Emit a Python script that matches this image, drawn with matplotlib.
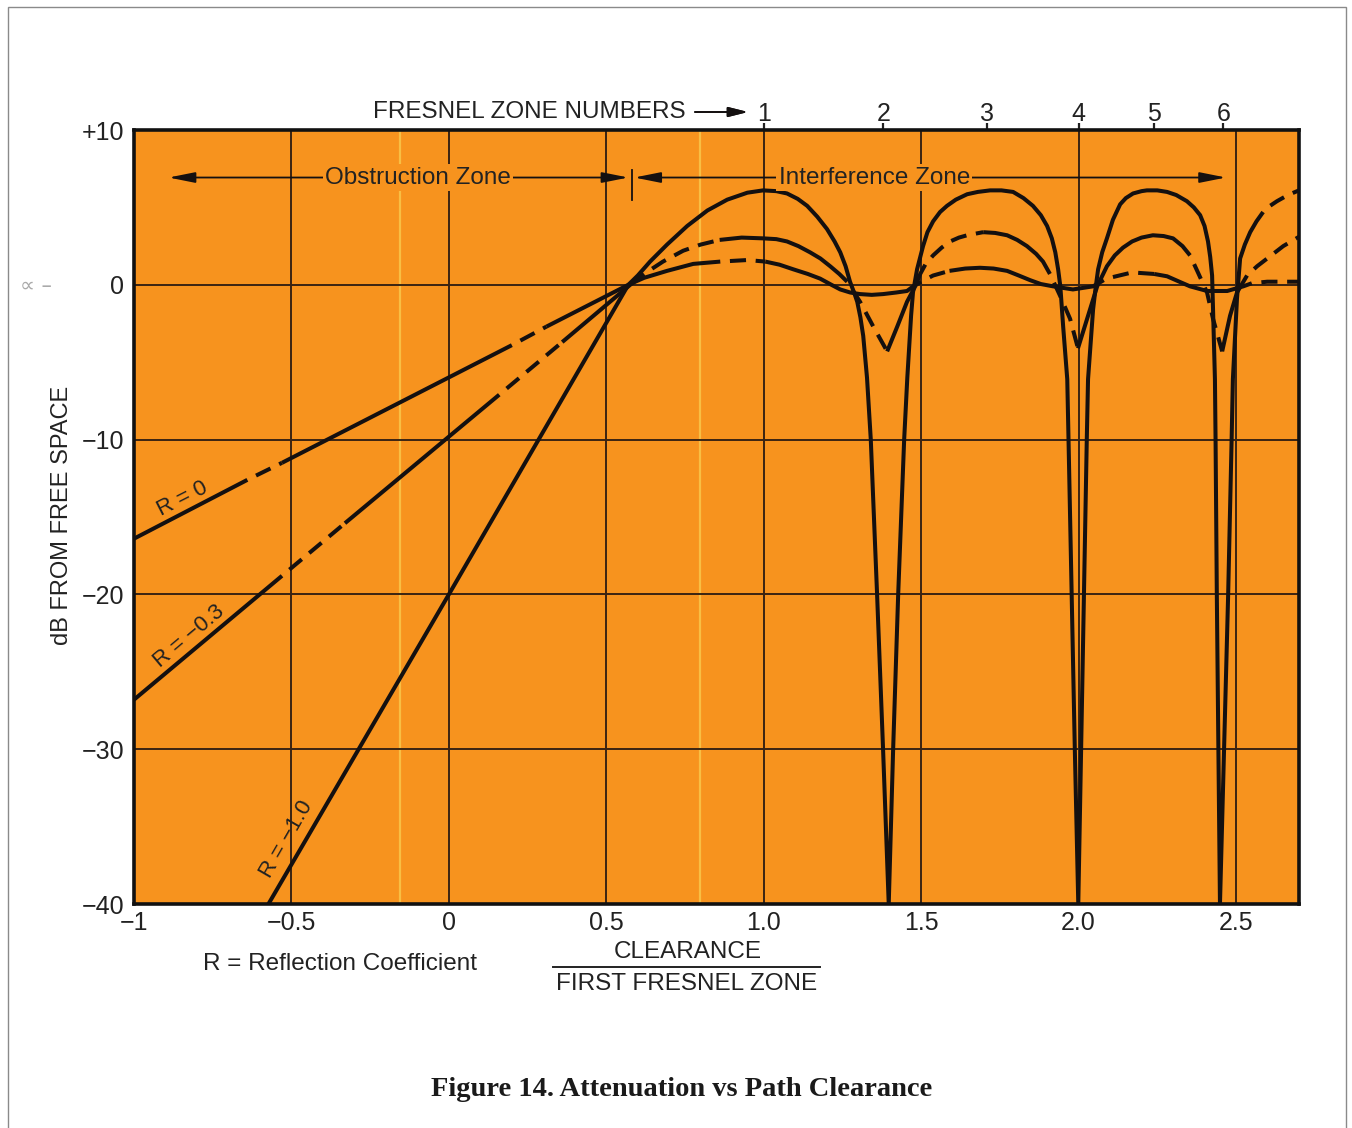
import numpy as np
import matplotlib
matplotlib.use("Agg")
import matplotlib.pyplot as plt
from matplotlib.patches import Rectangle

W, H = 1352, 1128
ORANGE = "#F7931E"
INK = "#141010"
GRID = "#3A2312"
TXT = "#222222"
SANS = "Liberation Sans"

# ---- axis data ---------------------------------------------------------
x_ticks = [-1.0, -0.5, 0.0, 0.5, 1.0, 1.5, 2.0, 2.5]
x_tick_labels = ["\u22121", "\u22120.5", "0", "0.5", "1.0", "1.5", "2.0", "2.5"]
y_ticks = [-40, -30, -20, -10, 0, 10]
y_tick_labels = ["\u221240", "\u221230", "\u221220", "\u221210", "0", "+10"]
zone_numbers = ["1", "2", "3", "4", "5", "6"]
zone_x = [1.0, 1.38, 1.71, 2.0, 2.24, 2.46]

# ---- attenuation curves (clearance / first Fresnel zone, dB) -----------
# R = 0
r0_x = [-1.0, -0.64, -0.53, 0.20, 0.31, 0.57,
        0.62, 0.693, 0.776, 0.862, 0.948, 1.005, 1.05, 1.094, 1.14,
        1.179, 1.215, 1.243, 1.275, 1.306, 1.343, 1.379, 1.42, 1.455,
        1.475, 1.50, 1.538, 1.59, 1.64, 1.687, 1.73, 1.773, 1.81,
        1.846, 1.88, 1.919, 1.982, 2.046, 2.08, 2.109, 2.17, 2.24,
        2.281, 2.32, 2.354, 2.408, 2.472, 2.523, 2.55, 2.599, 2.70]
r0_db = [-16.4, -12.6, -11.5, -3.9, -2.7, 0.0,
         0.45, 0.9, 1.35, 1.5, 1.6, 1.5, 1.3, 1.0, 0.7,
         0.4, 0.0, -0.3, -0.5, -0.6, -0.65, -0.6, -0.5, -0.4,
         -0.1, 0.2, 0.6, 0.9, 1.05, 1.1, 1.05, 0.9, 0.6,
         0.3, 0.05, -0.1, -0.3, -0.1, 0.3, 0.5, 0.8, 0.7,
         0.55, 0.2, -0.1, -0.4, -0.4, -0.1, 0.1, 0.2, 0.2]

# R = -0.3
r03_x = [-1.0, -0.53, -0.33, 0.16, 0.36, 0.576,
         0.62, 0.68, 0.744, 0.80, 0.86, 0.93, 0.998, 1.04, 1.074,
         1.11, 1.147, 1.18, 1.211, 1.24, 1.265, 1.306, 1.348, 1.392,
         1.424, 1.455, 1.481, 1.497, 1.513, 1.538, 1.565, 1.592, 1.62,
         1.646, 1.697, 1.735, 1.773, 1.805, 1.836, 1.865, 1.887, 1.909,
         1.941, 1.973, 1.998, 2.027, 2.059, 2.090, 2.115, 2.141, 2.17,
         2.20, 2.236, 2.27, 2.300, 2.33, 2.354, 2.379, 2.408, 2.427,
         2.456, 2.481, 2.503, 2.535, 2.567, 2.599, 2.650, 2.70]
r03_db = [-26.8, -18.8, -15.4, -7.1, -3.7, 0.0,
          0.7, 1.5, 2.2, 2.6, 2.9, 3.05, 3.0, 2.95, 2.8,
          2.5, 2.1, 1.7, 1.2, 0.7, 0.2, -1.1, -2.7, -4.3,
          -2.7, -1.1, -0.1, 0.7, 1.3, 1.9, 2.4, 2.8, 3.05,
          3.2, 3.4, 3.35, 3.2, 2.9, 2.5, 2.0, 1.5, 0.7,
          -0.7, -2.2, -4.1, -2.2, -0.1, 1.2, 1.9, 2.4, 2.8,
          3.05, 3.2, 3.15, 3.0, 2.5, 1.9, 0.8, -0.5, -2.2,
          -4.3, -2.0, -0.5, 0.6, 1.2, 1.7, 2.5, 3.1]

# R = -1.0
r1_x = [-0.573, 0.0, 0.57,
        0.60, 0.639, 0.693, 0.757, 0.821, 0.884, 0.948, 0.998, 1.04,
        1.074, 1.108, 1.138, 1.17, 1.201, 1.225, 1.243, 1.26, 1.274,
        1.287, 1.297, 1.307, 1.316, 1.328, 1.340, 1.360, 1.379, 1.397,
        1.411, 1.427, 1.446, 1.456, 1.468, 1.474, 1.487, 1.506, 1.52,
        1.538, 1.56, 1.582, 1.61, 1.646, 1.68, 1.719, 1.755, 1.792,
        1.825, 1.855, 1.88, 1.900, 1.915, 1.926, 1.935, 1.942, 1.951,
        1.964, 1.968, 1.978, 1.988, 1.999, 2.008, 2.017, 2.026, 2.030,
        2.046, 2.054, 2.062, 2.075, 2.090, 2.109, 2.132, 2.15, 2.173,
        2.20, 2.217, 2.25, 2.281, 2.31, 2.344, 2.366, 2.386, 2.40,
        2.411, 2.418, 2.424, 2.427, 2.433, 2.435, 2.439, 2.444, 2.449,
        2.462, 2.475, 2.486, 2.490, 2.503, 2.513, 2.528, 2.545, 2.565,
        2.586, 2.608, 2.630, 2.665, 2.70]
r1_db = [-40.0, -20.0, 0.0,
         0.6, 1.5, 2.6, 3.8, 4.8, 5.5, 5.95, 6.1, 6.05,
         5.9, 5.55, 5.1, 4.4, 3.6, 2.8, 2.1, 1.2, 0.2,
         -0.5, -1.1, -2.1, -3.3, -6.0, -10.0, -20.0, -30.0, -40.0,
         -30.0, -20.0, -10.0, -6.0, -2.0, -0.5, 1.0, 2.5, 3.4,
         4.1, 4.7, 5.1, 5.5, 5.85, 6.0, 6.1, 6.1, 6.0,
         5.6, 5.1, 4.5, 3.8, 3.0, 2.1, 1.0, -0.1, -2.7,
         -6.1, -10.0, -20.0, -30.0, -40.0, -30.0, -20.0, -10.0, -6.1,
         -1.6, -0.2, 1.0, 2.1, 3.0, 4.2, 5.2, 5.6, 5.9,
         6.05, 6.1, 6.1, 6.0, 5.8, 5.4, 5.0, 4.5, 3.8,
         2.8, 1.8, 0.6, -1.6, -6.1, -10.0, -20.0, -30.0, -40.0,
         -30.0, -20.0, -10.0, -6.1, -0.9, 1.7, 2.6, 3.4, 4.1,
         4.7, 5.1, 5.4, 5.8, 6.1]

# broken (dashed) stretches of each curve
r0_breaks = [(-0.64, -0.53), (0.20, 0.31), (0.862, 1.005), (1.50, 1.59),
             (2.08, 2.24), (2.55, 2.70)]
r03_breaks = [(-0.53, -0.33), (0.16, 0.36), (0.62, 0.86), (1.265, 1.392),
              (1.513, 1.697), (1.909, 1.998), (2.354, 2.456), (2.535, 2.70)]
r1_breaks = [(2.586, 2.70)]


def fx(px):
    return px / W


def fy(py):
    return 1 - py / H


def draw_curve(ax, xs, ys, breaks, lw=2.9):
    xs = np.asarray(xs, float)
    ys = np.asarray(ys, float)
    mids = (xs[:-1] + xs[1:]) / 2
    dashed = np.array([any(a <= m <= b for a, b in breaks) for m in mids])
    start = 0
    n = len(mids)
    for i in range(1, n + 1):
        if i == n or dashed[i] != dashed[start]:
            seg = slice(start, i + 1)
            ls = (4.0, (4.0, 2.4)) if dashed[start] else "-"
            ax.plot(xs[seg], ys[seg], color=INK, lw=lw, linestyle=ls,
                    solid_capstyle="butt", dash_capstyle="butt",
                    solid_joinstyle="round", zorder=5)
            start = i


fig = plt.figure(figsize=(W / 100, H / 100), dpi=100)
fig.patch.set_facecolor("white")
ax = fig.add_axes([fx(134), fy(904), fx(1299) - fx(134), fy(130) - fy(904)])
ax.set_facecolor(ORANGE)
ax.set_xlim(-1.0, 2.70)
ax.set_ylim(-40, 10)

ax.set_xticks(x_ticks, labels=x_tick_labels)
ax.set_yticks(y_ticks, labels=y_tick_labels)
ax.tick_params(length=0, labelsize=18, colors=TXT)
ax.tick_params(axis="x", pad=5)
ax.tick_params(axis="y", pad=7)
for lab in ax.get_xticklabels() + ax.get_yticklabels():
    lab.set_fontfamily(SANS)
ax.grid(True, color=GRID, lw=1.4, zorder=1)
ax.set_axisbelow(True)
for sp in ax.spines.values():
    sp.set_linewidth(2.6)
    sp.set_color("#111111")

# pale streaks in the printed background
for xv in (-0.154, 0.798):
    ax.axvline(xv, color="#F9C64A", lw=1.6, zorder=0.5, alpha=0.85)

draw_curve(ax, r0_x, r0_db, r0_breaks)
draw_curve(ax, r03_x, r03_db, r03_breaks)
draw_curve(ax, r1_x, r1_db, r1_breaks)

# curve labels along the straight sections
lab_kw = dict(fontsize=16, family=SANS, ha="center", va="center",
              rotation_mode="anchor", color=TXT)
ax.text(-0.846, -13.8, "R = 0", rotation=27, **lab_kw)
ax.text(-0.824, -22.7, "R = \u22120.3", rotation=40, **lab_kw)
ax.text(-0.515, -35.8, "R = \u22121.0", rotation=60, **lab_kw)

# zone arrows
arrow_y = 6.93
head = "<|-|>,head_length=1.6,head_width=0.32"
ax.annotate("", xy=(-0.89, arrow_y), xytext=(0.57, arrow_y),
            arrowprops=dict(arrowstyle=head, color=INK, lw=1.3,
                            shrinkA=0, shrinkB=0), zorder=6)
ax.annotate("", xy=(0.589, arrow_y), xytext=(2.468, arrow_y),
            arrowprops=dict(arrowstyle=head, color=INK, lw=1.3,
                            shrinkA=0, shrinkB=0), zorder=6)
ax.plot([0.582, 0.582], [5.5, 7.4], color=INK, lw=1.3, zorder=6)
box = dict(facecolor=ORANGE, edgecolor="none", pad=1.5)
ax.text(-0.097, arrow_y, "Obstruction Zone", fontsize=17.5, family=SANS,
        ha="center", va="center", bbox=box, zorder=7, color=TXT)
ax.text(1.351, arrow_y, "Interference Zone", fontsize=17.5, family=SANS,
        ha="center", va="center", bbox=box, zorder=7, color=TXT)

# Fresnel zone numbers on the top edge
sec = ax.secondary_xaxis("top")
sec.set_xticks(zone_x, labels=zone_numbers)
sec.tick_params(length=5, width=1.6, pad=-2, labelsize=18, direction="out",
                colors=TXT)
for lab in sec.get_xticklabels():
    lab.set_fontfamily(SANS)
sec.spines["top"].set_visible(False)

fig.text(fx(686), fy(112), "FRESNEL ZONE NUMBERS", fontsize=17.5, family=SANS,
         ha="right", va="center", color=TXT)
fig.add_artist(plt.annotate("", xy=(fx(748), fy(112)), xytext=(fx(695), fy(112)),
                            xycoords="figure fraction", textcoords="figure fraction",
                            arrowprops=dict(arrowstyle="-|>,head_length=1.2,head_width=0.3",
                                            color=INK, lw=1.3, shrinkA=0, shrinkB=0)))

fig.text(fx(62), fy(515), "dB FROM FREE SPACE", rotation=90, fontsize=17,
         family=SANS, ha="center", va="center", color=TXT)

fig.text(fx(340), fy(964), "R = Reflection Coefficient", fontsize=17.5,
         family=SANS, ha="center", va="center", color=TXT)
fig.text(fx(688), fy(952), "CLEARANCE", fontsize=17.5, family=SANS,
         ha="center", va="center", color=TXT)
fig.text(fx(687), fy(984), "FIRST FRESNEL ZONE", fontsize=17.5, family=SANS,
         ha="center", va="center", color=TXT)
fig.add_artist(plt.Line2D([fx(553), fx(820)], [fy(967), fy(967)],
                          transform=fig.transFigure, color=TXT, lw=1.4))

fig.text(fx(682), fy(1089), "Figure 14. Attenuation vs Path Clearance",
         fontsize=20.5, family="Liberation Serif", weight="bold",
         ha="center", va="center", color="#1a1a1a")

# pencil mark in the margin
fig.text(fx(36), fy(286), "\u221d \u2013", fontsize=15, family="DejaVu Sans",
         ha="center", va="center", color="#aaaaaa")

# page frame
fig.add_artist(Rectangle((fx(8), -0.02), fx(1346) - fx(8), fy(7) + 0.02,
                         transform=fig.transFigure, fill=False,
                         edgecolor="#8a8a8a", lw=1.0))

fig.savefig("out.png", dpi=100, facecolor="white")
